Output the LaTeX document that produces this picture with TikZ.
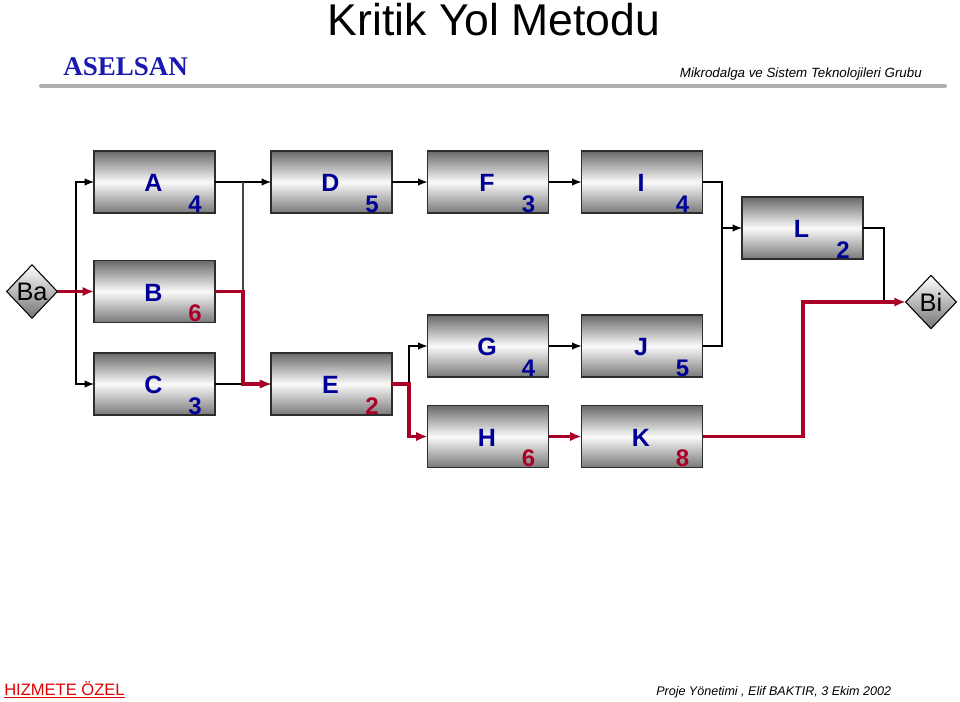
\documentclass[tikz,border=0pt]{standalone}
\usepackage{fontspec}
\setmainfont{Liberation Sans}
\newfontfamily\timesf{Liberation Serif}
\usetikzlibrary{shapes.geometric,arrows.meta,calc}
\definecolor{crit}{RGB}{170,0,40}
\definecolor{lblue}{RGB}{0,0,150}
\definecolor{aselblue}{RGB}{25,25,175}
\definecolor{boxtop}{RGB}{105,105,105}
\definecolor{boxmid}{RGB}{250,250,250}
\definecolor{boxbot}{RGB}{120,120,120}
\definecolor{barc}{RGB}{175,175,175}
\definecolor{hred}{RGB}{225,0,0}
\tikzset{
  taskbox/.style={draw={rgb,255:red,45;green,45;blue,45}, line width=0.8pt, minimum width=90.75pt, minimum height=46.5pt, inner sep=0pt, outer sep=0pt, top color=boxtop, bottom color=boxbot, middle color=boxmid},
  endnode/.style={diamond, draw=black, line width=0.8pt, inner sep=0pt, outer sep=0pt, minimum width=38pt, minimum height=40pt, top color=white, bottom color={rgb,255:red,115;green,115;blue,115}, font=\fontsize{19pt}{20pt}\selectfont},
  lettxt/.style={font=\fontsize{18.75pt}{20pt}\selectfont\bfseries, text=lblue, inner sep=0pt},
  numtxt/.style={font=\fontsize{18pt}{20pt}\selectfont\bfseries, text=lblue, inner sep=0pt},
  critnum/.style={numtxt, text=crit},
  normline/.style={draw=black, line width=0.85pt, -{Latex[length=7pt,width=5.5pt]}},
  plainline/.style={draw=black, line width=0.85pt},
  greyline/.style={draw={rgb,255:red,70;green,70;blue,70}, line width=1.4pt},
  critline/.style={draw=crit, line width=2.5pt, -{Latex[length=8.5pt,width=7pt]}}
}
\begin{document}
\begin{tikzpicture}[x=0.75pt,y=-0.75pt]
\useasboundingbox (0,0) rectangle (960,701);
% header
\node[anchor=base, inner sep=0pt, font=\fontsize{33.4pt}{36pt}\selectfont] (title) at (494,35) {Kritik Yol Metodu};
\node[anchor=base west, inner sep=0pt, text=aselblue, font=\timesf\bfseries\fontsize{20.25pt}{22pt}\selectfont] (asel) at (63,75) {ASELSAN};
\node[anchor=base east, inner sep=0pt, font=\itshape\fontsize{10pt}{12pt}\selectfont] (grp) at (922,77) {Mikrodalga ve Sistem Teknolojileri Grubu};
\coordinate (barL) at (41,86);
\coordinate (barR) at (945,86);
\draw[barc, line width=3pt, line cap=round] (barL) -- (barR);
% footer
\node[anchor=base west, inner sep=0pt, text=hred, font=\fontsize{12.4pt}{14pt}\selectfont] (hiz) at (4,695) {\underline{HIZMETE ÖZEL}};
\node[anchor=base west, inner sep=0pt, font=\itshape\fontsize{9.4pt}{11pt}\selectfont] (proj) at (656,695) {Proje Yönetimi , Elif BAKTIR, 3 Ekim 2002};
% boxes
\node[taskbox] (A) at (154.5,182) {};
\node[taskbox] (B) at (154.5,291.5) {};
\node[taskbox] (C) at (154.5,384) {};
\node[taskbox] (D) at (331.5,182) {};
\node[taskbox] (E) at (331.5,384) {};
\node[taskbox] (F) at (488,182) {};
\node[taskbox] (I) at (642,182) {};
\node[taskbox] (G) at (488,346) {};
\node[taskbox] (J) at (642,346) {};
\node[taskbox] (H) at (488,436.5) {};
\node[taskbox] (K) at (642,436.5) {};
\node[taskbox] (L) at (802.5,228) {};
\node[endnode] (Ba) at (32,291.5) {Ba};
\node[endnode] (Bi) at (931,302) {Bi};
% labels
\foreach \n/\v/\s in {A/4/numtxt,B/6/critnum,C/3/numtxt,D/5/numtxt,E/2/critnum,F/3/numtxt,I/4/numtxt,G/4/numtxt,J/5/numtxt,H/6/critnum,K/8/critnum,L/2/numtxt}{
  \node[lettxt] (\n lbl) at ($(\n.center)+(-1,1)$) {\n};
  \node[\s] (\n num) at ($(\n.south east)+(-20,-9)$) {\v};
}
% junction x positions
\coordinate (j1) at (76,291.5);
\coordinate (j2) at (243,0);
\coordinate (j3) at (409,0);
\coordinate (j4) at (722,0);
\coordinate (j5) at (884,0);
\coordinate (j6) at (803,0);
% connectors
\draw[normline] (j1) |- (A.west);
\draw[normline] (j1) |- (C.west);
\draw[critline] (Ba.east) -- (B.west);
\draw[normline] (A.east) -- (D.west);
\draw[greyline] (A.east -| j2) -- (B.east -| j2);
\draw[normline] (C.east) -- (E.west);
\draw[critline] (B.east) -- (B.east -| j2) |- (E.west);
\draw[normline] (E.east -| j3) |- (G.west);
\draw[critline] (E.east) -- (E.east -| j3) |- (H.west);
\draw[normline] (D.east) -- (F.west);
\draw[normline] (F.east) -- (I.west);
\draw[normline] (G.east) -- (J.west);
\draw[critline] (H.east) -- (K.west);
\draw[plainline] (I.east) -- (I.east -| j4) -- (J.east -| j4) -- (J.east);
\draw[normline] (L.west -| j4) -- (L.west);
\draw[plainline] (L.east) -- (L.east -| j5) -- (Bi.west -| j5);
\draw[critline] (K.east) -- (K.east -| j6) |- (Bi.west);
\end{tikzpicture}
\end{document}
